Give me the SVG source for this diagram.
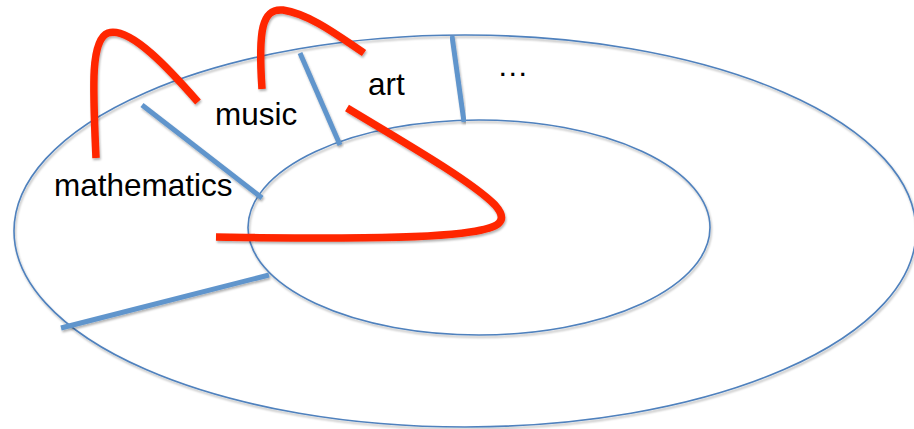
<svg xmlns="http://www.w3.org/2000/svg" width="914" height="429" viewBox="0 0 914 429">
  <defs>
    <filter id="sh" x="-10%" y="-10%" width="120%" height="130%">
      <feDropShadow dx="1" dy="2" stdDeviation="1.2" flood-color="#000" flood-opacity="0.3"/>
    </filter>
  </defs>
  <style>
    .ring { fill: none; stroke: #4f81bd; stroke-width: 1.6; filter: url(#sh); }
    .div { stroke: #6195cc; stroke-width: 5; fill: none; filter: url(#sh); }
    .red { stroke: #ff2600; stroke-width: 7.5; fill: none; stroke-linecap: butt; filter: url(#sh); }
    .lbl { font-family: "Liberation Sans", Arial, sans-serif; font-size: 31.5px; fill: #000; }
  </style>
  <rect width="914" height="429" fill="#fff"/>
  <g id="outer-ring"><ellipse class="ring" cx="465" cy="231" rx="451" ry="196"/></g>
  <g id="inner-ring"><ellipse class="ring" cx="479" cy="227.5" rx="231" ry="107.5"/></g>
  <g id="dividers">
    <line class="div" x1="142" y1="105" x2="262" y2="198"/>
    <line class="div" x1="300" y1="53" x2="340" y2="145"/>
    <line class="div" x1="452" y1="36" x2="464" y2="122"/>
    <line class="div" x1="61" y1="328" x2="269" y2="275"/>
  </g>
  <g id="connectors">
    <path class="red" d="M96,158 C93,90 90,40 108,33 C130,26 170,70 198,102"/>
    <path class="red" d="M262,89 C258,30 262,8 283,10 C310,14 340,37 364,53"/>
    <path class="red" d="M347,108 C400,140 470,180 495,205 C510,222 498,228 470,232 C420,240 300,238 216,237"/>
  </g>
  <g id="mathematics"><text class="lbl" x="54" y="196">mathematics</text></g>
  <g id="music"><text class="lbl" x="215" y="125">music</text></g>
  <g id="art"><text class="lbl" x="368" y="95">art</text></g>
  <g id="more"><text class="lbl" x="497" y="76">…</text></g>
</svg>
